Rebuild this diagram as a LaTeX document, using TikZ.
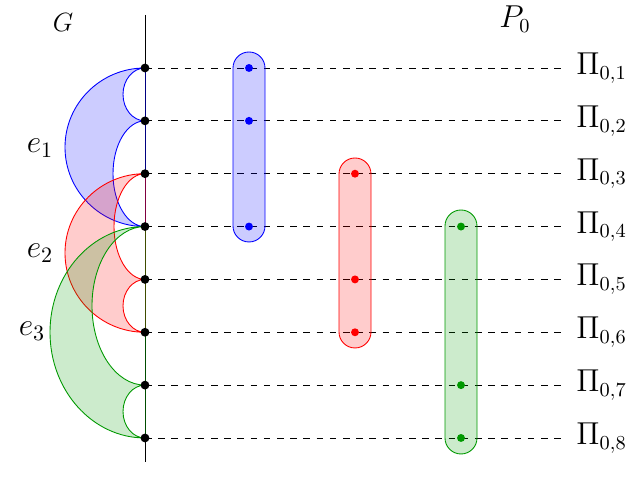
\documentclass[tikz,border=0pt]{standalone}
\usetikzlibrary{calc}
\colorlet{hgreen}{green!60!black}
\tikzset{
  hedge/.style={draw=#1, fill=#1, fill opacity=0.2},
  hbox/.style={draw=#1, fill=#1, fill opacity=0.2, rounded corners=7.27pt},
  vdot/.style={fill=black},
  cdot/.style={fill=#1},
  lbl/.style={anchor=west, inner sep=0pt, font=\fontsize{13.4}{15}\selectfont},
}
\begin{document}
\begin{tikzpicture}[x=0.4545pt,y=0.4545pt]
\useasboundingbox (0,0) rectangle (631,491);
\coordinate (top) at (145,476);
\coordinate (bot) at (145,29);
\foreach \i/\Y in {1/423,2/370.14,3/317.29,4/264.43,5/211.57,6/158.71,7/105.86,8/53}{
  \coordinate (p\i) at (145,\Y);
  \coordinate (q\i) at (562,\Y);
  \coordinate (b\i) at (249,\Y);
  \coordinate (r\i) at (355,\Y);
  \coordinate (g\i) at (461,\Y);
  \node[lbl] (L\i) at (576,\Y) {$\Pi_{0,\i}$};
}
% axis and dashed rows
\draw (top) -- (bot);
\foreach \i in {1,...,8} \draw[dashed] (p\i) -- (q\i);
% hyperedges
\path[hedge=blue] (p1) arc[start angle=90,end angle=270,x radius=80,y radius=79.29]
  arc[start angle=270,end angle=90,x radius=32,y radius=52.86]
  arc[start angle=270,end angle=90,x radius=22,y radius=26.43] -- cycle;
\path[hedge=red] (p3) arc[start angle=90,end angle=270,x radius=80,y radius=79.29]
  arc[start angle=270,end angle=90,x radius=22,y radius=26.43]
  arc[start angle=270,end angle=90,x radius=31,y radius=52.86] -- cycle;
\path[hedge=hgreen] (p4) arc[start angle=90,end angle=270,x radius=95,y radius=105.71]
  arc[start angle=270,end angle=90,x radius=22,y radius=26.43]
  arc[start angle=270,end angle=90,x radius=53,y radius=79.29] -- cycle;
\draw[blue, draw opacity=0.5] (p1) -- (p4);
\draw[red, draw opacity=0.5] (p3) -- (p6);
\draw[hgreen, draw opacity=0.5] (p4) -- (p8);
% parts of P0
\draw[hbox=blue] (233,439) rectangle (265,249);
\draw[hbox=red] (339,333) rectangle (371,143);
\draw[hbox=hgreen] (445,281) rectangle (477,37);
% dots
\foreach \i in {1,...,8} \fill[vdot] (p\i) circle[radius=2pt];
\foreach \i in {1,2,4} \fill[cdot=blue] (b\i) circle[radius=1.8pt];
\foreach \i in {3,5,6} \fill[cdot=red] (r\i) circle[radius=1.8pt];
\foreach \i in {4,7,8} \fill[cdot=hgreen] (g\i) circle[radius=1.8pt];
% labels
\node (G) at (63,469) {\fontsize{12.9}{15}\selectfont $G$};
\node (P) at (515,472) {\fontsize{13.4}{15}\selectfont $P_0$};
\node (e1) at (40,343) {\Large $e_1$};
\node (e2) at (40,238) {\Large $e_2$};
\node (e3) at (32,160) {\Large $e_3$};
\end{tikzpicture}
\end{document}
